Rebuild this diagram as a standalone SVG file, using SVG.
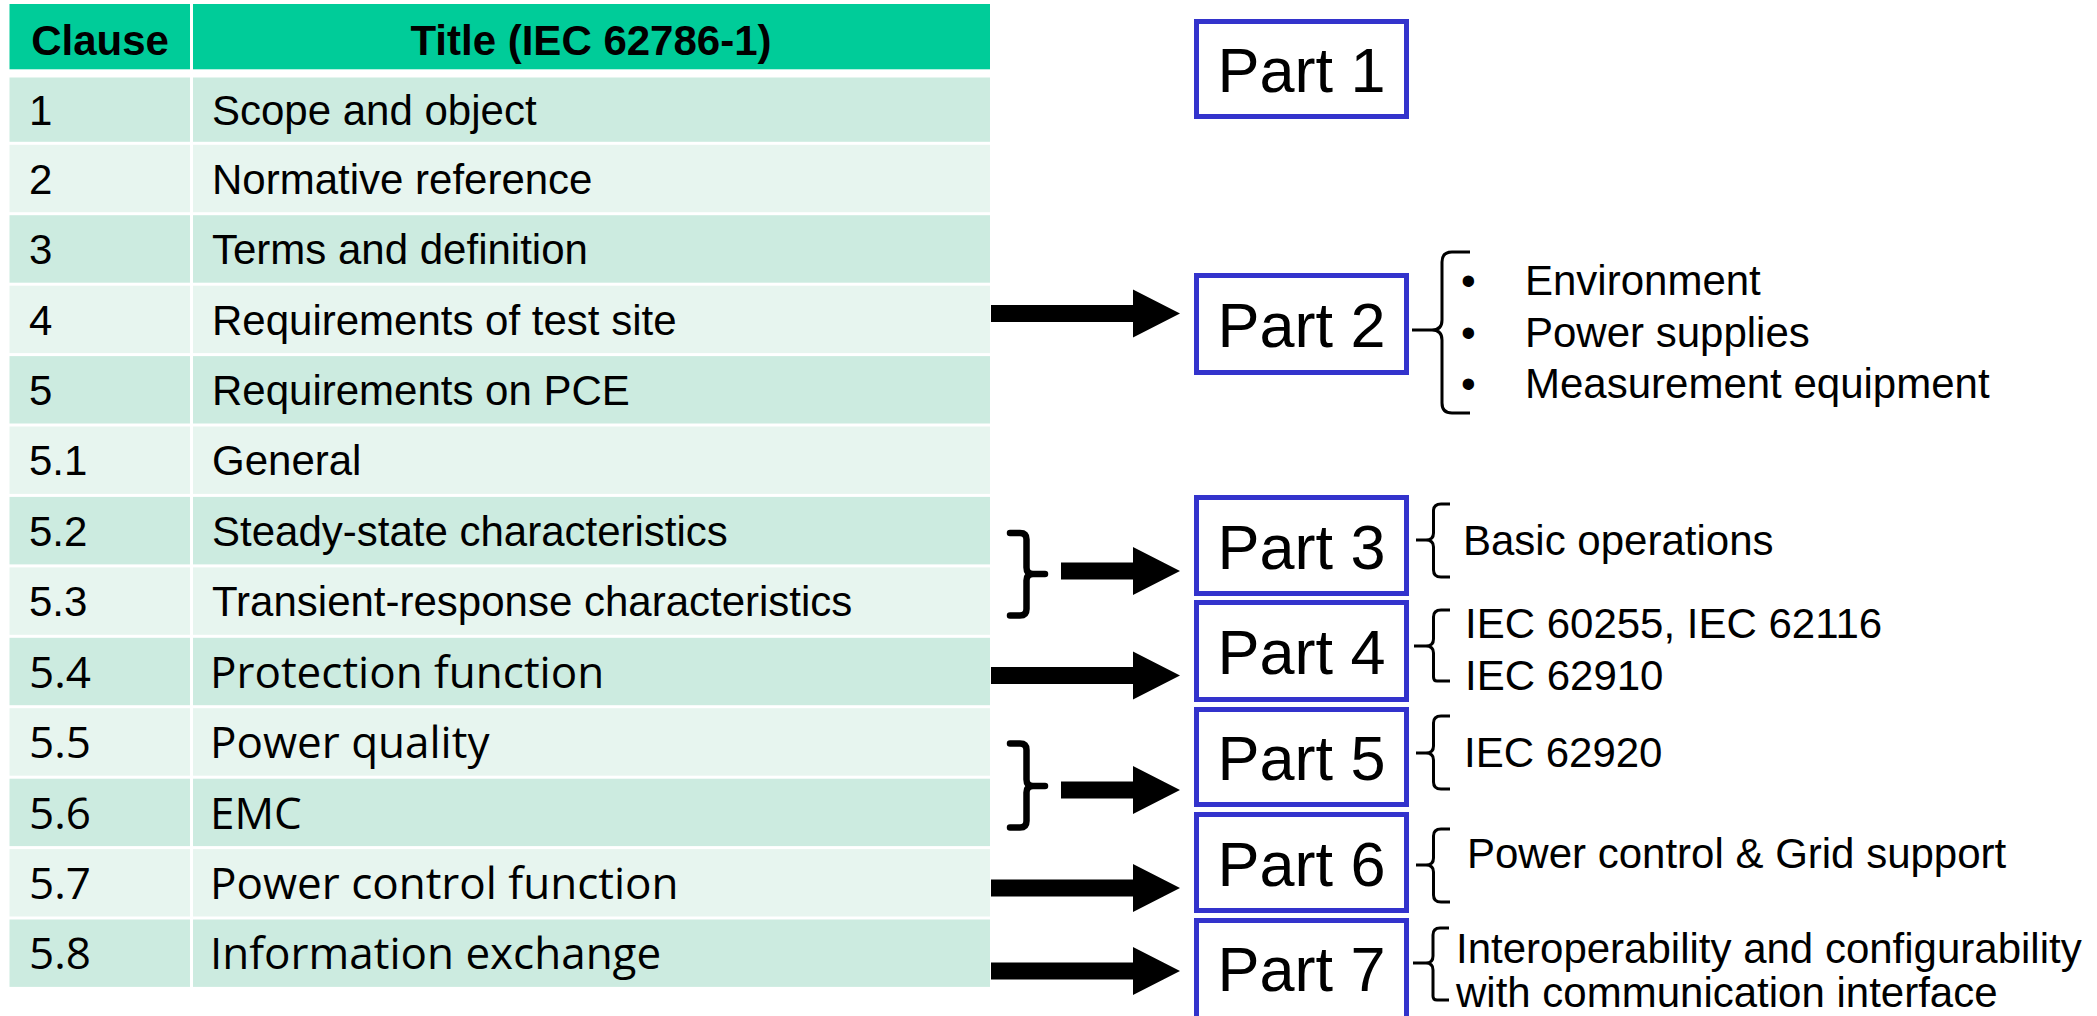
<svg xmlns="http://www.w3.org/2000/svg" width="2097" height="1016" viewBox="0 0 2097 1016">
<style>
.hdr{fill:#00CC99}
.dk{fill:#CCEBE0}
.lt{fill:#E7F5EF}
.ht{font-family:"Liberation Sans",Arial,sans-serif;font-weight:bold;font-size:42px;fill:#000;text-anchor:middle}
.ta{font-family:"Liberation Sans",Arial,sans-serif;font-size:42px;fill:#000}
.to{font-family:"Open Sans","Noto Sans",sans-serif;font-size:44px;fill:#000}
.box{fill:#fff;stroke:#3333CC;stroke-width:5}
.pt{font-family:"Liberation Sans",Arial,sans-serif;font-size:63px;fill:#000;text-anchor:middle}
.note{font-family:"Liberation Sans",Arial,sans-serif;font-size:42px;fill:#000}
.rb{fill:none;stroke:#000;stroke-width:3;stroke-linejoin:round}
.lb{fill:none;stroke:#000;stroke-width:6.5;stroke-linecap:round;stroke-linejoin:round}
.arr{fill:#000}
</style>
<rect x="0" y="0" width="2097" height="1016" fill="#fff"/>

<g id="table">
  <g id="header">
    <rect class="hdr" x="9.5" y="4" width="180.5" height="65.3"/>
    <rect class="hdr" x="193" y="4" width="797" height="65.3"/>
    <text class="ht" x="100" y="55">Clause</text>
    <text class="ht" x="591" y="55">Title (IEC 62786-1)</text>
  </g>
  <g id="row-1">
    <rect class="dk" x="9.5" y="77.5" width="180.5" height="64.3"/>
    <rect class="dk" x="193" y="77.5" width="797" height="64.3"/>
    <text class="ta" x="29" y="125">1</text>
    <text class="ta" x="212" y="125">Scope and object</text>
  </g>
  <g id="row-2">
    <rect class="lt" x="9.5" y="144.8" width="180.5" height="67.4"/>
    <rect class="lt" x="193" y="144.8" width="797" height="67.4"/>
    <text class="ta" x="29" y="193.5">2</text>
    <text class="ta" x="212" y="193.5">Normative reference</text>
  </g>
  <g id="row-3">
    <rect class="dk" x="9.5" y="215.2" width="180.5" height="67.5"/>
    <rect class="dk" x="193" y="215.2" width="797" height="67.5"/>
    <text class="ta" x="29" y="264">3</text>
    <text class="ta" x="212" y="264">Terms and definition</text>
  </g>
  <g id="row-4">
    <rect class="lt" x="9.5" y="285.7" width="180.5" height="67.4"/>
    <rect class="lt" x="193" y="285.7" width="797" height="67.4"/>
    <text class="ta" x="29" y="334.5">4</text>
    <text class="ta" x="212" y="334.5">Requirements of test site</text>
  </g>
  <g id="row-5">
    <rect class="dk" x="9.5" y="356.1" width="180.5" height="67.4"/>
    <rect class="dk" x="193" y="356.1" width="797" height="67.4"/>
    <text class="ta" x="29" y="405">5</text>
    <text class="ta" x="212" y="405">Requirements on PCE</text>
  </g>
  <g id="row-5-1">
    <rect class="lt" x="9.5" y="426.5" width="180.5" height="67.4"/>
    <rect class="lt" x="193" y="426.5" width="797" height="67.4"/>
    <text class="ta" x="29" y="475">5.1</text>
    <text class="ta" x="212" y="475">General</text>
  </g>
  <g id="row-5-2">
    <rect class="dk" x="9.5" y="496.9" width="180.5" height="67.5"/>
    <rect class="dk" x="193" y="496.9" width="797" height="67.5"/>
    <text class="ta" x="29" y="545.5">5.2</text>
    <text class="ta" x="212" y="545.5">Steady-state characteristics</text>
  </g>
  <g id="row-5-3">
    <rect class="lt" x="9.5" y="567.4" width="180.5" height="67.4"/>
    <rect class="lt" x="193" y="567.4" width="797" height="67.4"/>
    <text class="ta" x="29" y="616">5.3</text>
    <text class="ta" x="212" y="616">Transient-response characteristics</text>
  </g>
  <g id="row-5-4">
    <rect class="dk" x="9.5" y="637.8" width="180.5" height="67.4"/>
    <rect class="dk" x="193" y="637.8" width="797" height="67.4"/>
    <text class="to" x="29" y="687.5">5.4</text>
    <text class="to" x="210" y="687.5">Protection function</text>
  </g>
  <g id="row-5-5">
    <rect class="lt" x="9.5" y="708.2" width="180.5" height="67.5"/>
    <rect class="lt" x="193" y="708.2" width="797" height="67.5"/>
    <text class="to" x="29" y="758">5.5</text>
    <text class="to" x="210" y="758">Power quality</text>
  </g>
  <g id="row-5-6">
    <rect class="dk" x="9.5" y="778.7" width="180.5" height="67.4"/>
    <rect class="dk" x="193" y="778.7" width="797" height="67.4"/>
    <text class="to" x="29" y="828.5">5.6</text>
    <text class="to" x="210" y="828.5">EMC</text>
  </g>
  <g id="row-5-7">
    <rect class="lt" x="9.5" y="849.1" width="180.5" height="67.4"/>
    <rect class="lt" x="193" y="849.1" width="797" height="67.4"/>
    <text class="to" x="29" y="899">5.7</text>
    <text class="to" x="210" y="899">Power control function</text>
  </g>
  <g id="row-5-8">
    <rect class="dk" x="9.5" y="919.5" width="180.5" height="67.4"/>
    <rect class="dk" x="193" y="919.5" width="797" height="67.4"/>
    <text class="to" x="29" y="969">5.8</text>
    <text class="to" x="210" y="969">Information exchange</text>
  </g>
</g>

<g id="part-1">
  <rect class="box" x="1196.5" y="21.5" width="210" height="95"/>
  <text class="pt" x="1301.5" y="92">Part 1</text>
</g>

<g id="part-2">
  <rect class="box" x="1196.5" y="275.5" width="210" height="97"/>
  <text class="pt" x="1301.5" y="347">Part 2</text>
  <path class="rb" d="M1470,252 L1452,252 Q1442,252 1442,262 L1442,320 Q1442,330 1432,330 L1412,330 M1432,330 Q1442,330 1442,340 L1442,403 Q1442,413 1452,413 L1470,413"/>
  <text class="note" x="1461" y="295">•</text>
  <text class="note" x="1461" y="347">•</text>
  <text class="note" x="1461" y="398">•</text>
  <text class="note" x="1525" y="295">Environment</text>
  <text class="note" x="1525" y="347">Power supplies</text>
  <text class="note" x="1525" y="398">Measurement equipment</text>
</g>

<g id="part-3">
  <rect class="box" x="1196.5" y="497.5" width="210" height="96"/>
  <text class="pt" x="1301.5" y="568.5">Part 3</text>
  <path class="rb" d="M1450,504 L1441,504 Q1433.5,504 1433.5,511 L1433.5,533 Q1433.5,540 1426,540 L1416,540 M1426,540 Q1433.5,540 1433.5,547 L1433.5,570 Q1433.5,577 1441,577 L1450,577"/>
  <text class="note" x="1463" y="555">Basic operations</text>
</g>

<g id="part-4">
  <rect class="box" x="1196.5" y="602.5" width="210" height="97"/>
  <text class="pt" x="1301.5" y="674">Part 4</text>
  <path class="rb" d="M1450,610 L1441,610 Q1433.5,610 1433.5,617 L1433.5,639 Q1433.5,646 1426,646 L1414,646 M1426,646 Q1433.5,646 1433.5,653 L1433.5,677 Q1433.5,681 1437,681 L1450,681"/>
  <text class="note" x="1465" y="638">IEC 60255, IEC 62116</text>
  <text class="note" x="1465" y="690">IEC 62910</text>
</g>

<g id="part-5">
  <rect class="box" x="1196.5" y="709.5" width="210" height="95"/>
  <text class="pt" x="1301.5" y="779.5">Part 5</text>
  <path class="rb" d="M1450,716 L1441,716 Q1433.5,716 1433.5,723 L1433.5,746 Q1433.5,753 1426,753 L1416,753 M1426,753 Q1433.5,753 1433.5,760 L1433.5,782 Q1433.5,789 1441,789 L1450,789"/>
  <text class="note" x="1464" y="767">IEC 62920</text>
</g>

<g id="part-6">
  <rect class="box" x="1196.5" y="814.5" width="210" height="96"/>
  <text class="pt" x="1301.5" y="885.5">Part 6</text>
  <path class="rb" d="M1450,829 L1441,829 Q1433.5,829 1433.5,836 L1433.5,858 Q1433.5,865 1426,865 L1416,865 M1426,865 Q1433.5,865 1433.5,872 L1433.5,895 Q1433.5,902 1441,902 L1450,902"/>
  <text class="note" x="1467" y="868">Power control &amp; Grid support</text>
</g>

<g id="part-7">
  <rect class="box" x="1196.5" y="920.5" width="210" height="98"/>
  <text class="pt" x="1301.5" y="991">Part 7</text>
  <path class="rb" d="M1449,928 L1440,928 Q1433,928 1433,935 L1433,956 Q1433,963 1426,963 L1413,963 M1426,963 Q1433,963 1433,970 L1433,996 Q1433,1000 1437,1000 L1449,1000"/>
  <text class="note" x="1456" y="963">Interoperability and configurability</text>
  <text class="note" x="1456" y="1007">with communication interface</text>
</g>

<g id="connectors">
  <path class="lb" d="M1010,533 L1020,533 Q1026.5,533 1026.5,539.5 L1026.5,567.5 Q1026.5,574 1033,574 L1045,574 M1033,574 Q1026.5,574 1026.5,580.5 L1026.5,609 Q1026.5,615.5 1020,615.5 L1010,615.5"/>
  <path class="lb" d="M1010,743.5 L1020,743.5 Q1026.5,743.5 1026.5,750 L1026.5,779.5 Q1026.5,786 1033,786 L1045,786 M1033,786 Q1026.5,786 1026.5,792.5 L1026.5,821 Q1026.5,827.5 1020,827.5 L1010,827.5"/>
  <polygon class="arr" points="991,305 1133,305 1133,289.5 1180,313.5 1133,337.5 1133,322 991,322"/>
  <polygon class="arr" points="1061,562.5 1133,562.5 1133,547 1180,571 1133,595 1133,579.5 1061,579.5"/>
  <polygon class="arr" points="991,667 1133,667 1133,651.5 1180,675.5 1133,699.5 1133,684 991,684"/>
  <polygon class="arr" points="1061,781.5 1133,781.5 1133,766 1180,790 1133,814 1133,798.5 1061,798.5"/>
  <polygon class="arr" points="991,879.5 1133,879.5 1133,864 1180,888 1133,912 1133,896.5 991,896.5"/>
  <polygon class="arr" points="991,962.5 1133,962.5 1133,947 1180,971 1133,995 1133,979.5 991,979.5"/>
</g>
</svg>
